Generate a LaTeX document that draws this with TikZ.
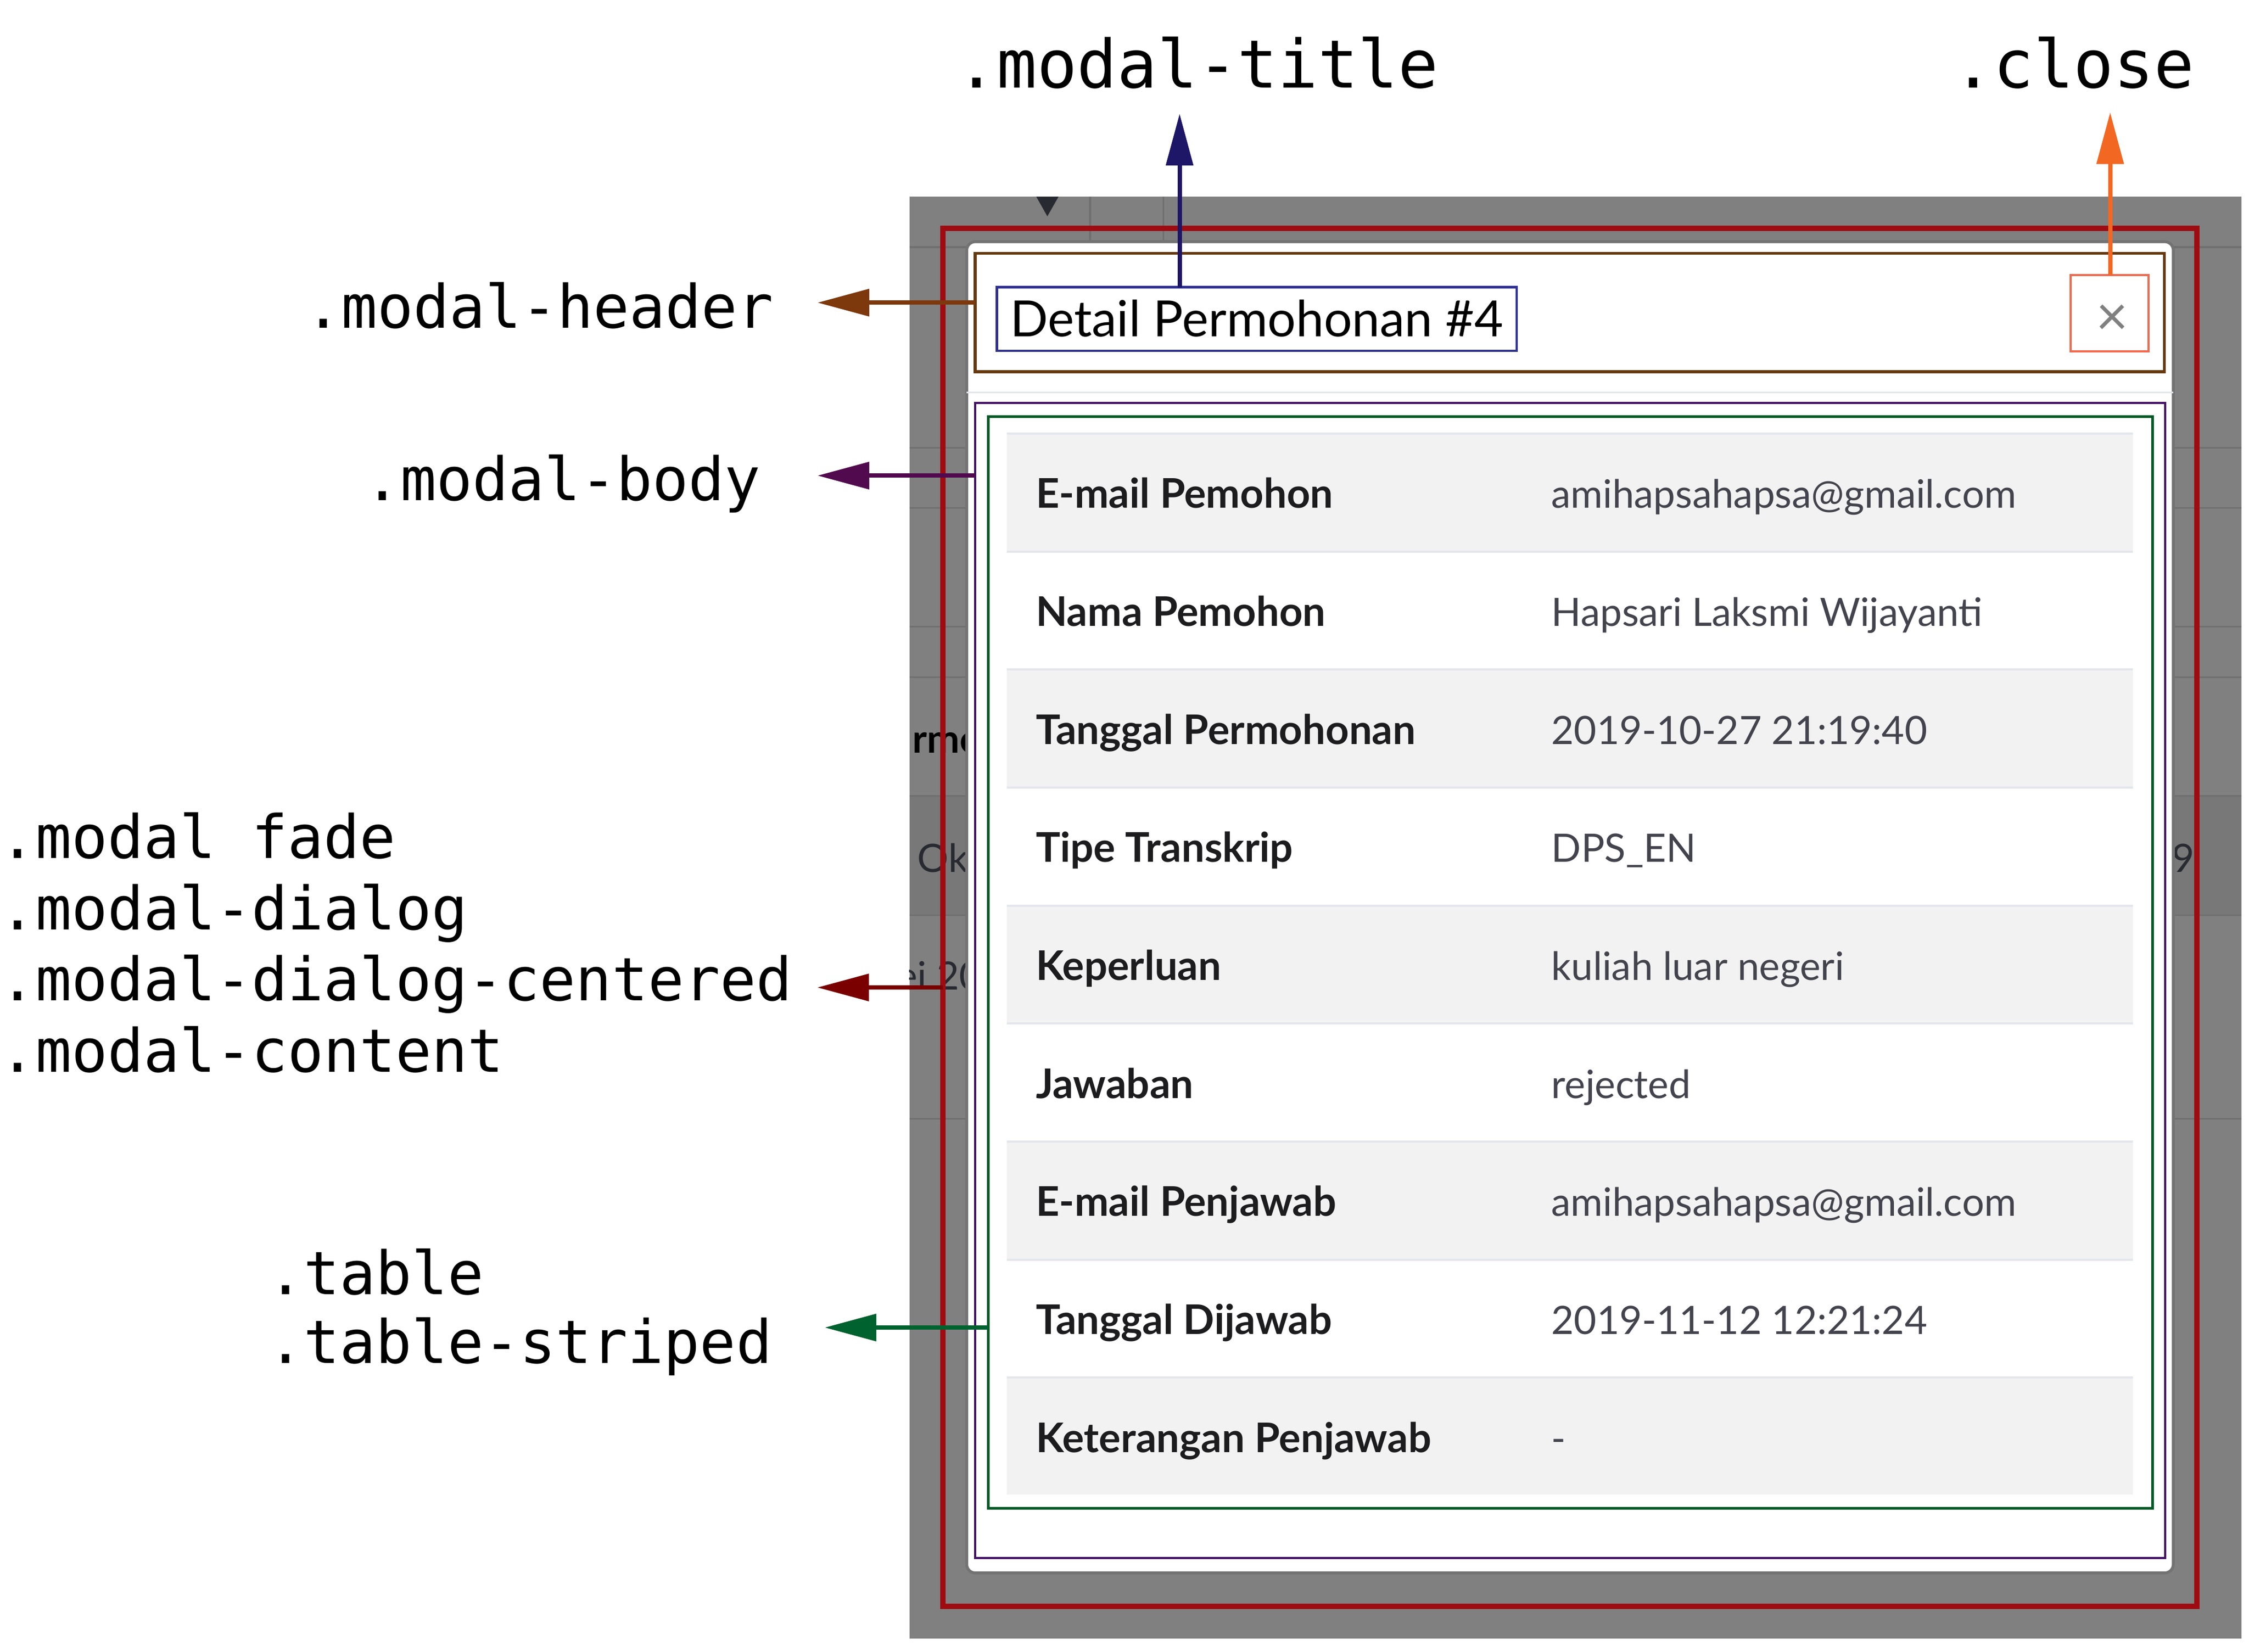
\documentclass[tikz,border=0pt]{standalone}
\usepackage{fontspec}
\usepackage{xcolor}
\newfontfamily\monofont{DejaVu Sans Mono}
\newfontfamily\uifont{Lato}
\definecolor{screen}{gray}{.5}
\definecolor{screenrow}{gray}{.47}
\definecolor{screenline}{gray}{.44}
\definecolor{screentext}{RGB}{40,42,50}
\definecolor{mydarkred}{RGB}{158,12,18}
\definecolor{mydarkredarrow}{RGB}{122,0,0}
\definecolor{mybrown}{RGB}{102,57,15}
\definecolor{mybrownarrow}{RGB}{125,56,12}
\definecolor{mytitleblue}{RGB}{46,49,146}
\definecolor{mynavy}{RGB}{30,22,102}
\definecolor{mysalmon}{RGB}{240,106,79}
\definecolor{myorange}{RGB}{242,103,34}
\definecolor{mypurple}{RGB}{66,17,100}
\definecolor{mypurplearrow}{RGB}{82,10,78}
\definecolor{mygreen}{RGB}{0,90,38}
\definecolor{mygreenarrow}{RGB}{0,98,46}
\definecolor{stripe}{RGB}{242,242,242}
\definecolor{rowline}{RGB}{227,230,236}
\definecolor{keytext}{RGB}{28,28,30}
\definecolor{valuetext}{RGB}{66,67,76}
\usepackage{tikz}
\usetikzlibrary{arrows.meta}
\newcommand{\sizetag}{\fontsize{11.87}{14}\selectfont}
\newcommand{\sizetagtop}{\fontsize{13.23}{16}\selectfont}
\newcommand{\sizetitle}{\fontsize{9.9}{12}\selectfont}
\newcommand{\sizecell}{\fontsize{7.75}{9}\selectfont}
\newcommand{\sizekey}{\fontsize{8.1}{9}\selectfont}
\newcommand{\heightrow}{8.227mm}
\newcommand{\widthrow}{78.5mm}
\newcommand{\skiptag}{4.97mm}
\tikzset{
    common/.style={anchor=north west, rectangle, inner sep=0pt, outer sep=0pt},
    outline/.style={common, draw},
    tablerow/.style={common, fill=white, minimum width=\widthrow, minimum height=\heightrow,
        path picture={
            \draw[rowline, line width=0.25mm]
                (path picture bounding box.north west) -- (path picture bounding box.north east);
        }
    },
    striperow/.style={tablerow, fill=stripe},
    fieldname/.style={anchor=base west, inner sep=0pt, font=\uifont\sizekey\bfseries, text=keytext},
    fieldvalue/.style={anchor=base west, inner sep=0pt, font=\uifont\sizecell, text=valuetext},
    fragment/.style={anchor=base west, inner sep=0pt, font=\uifont\sizecell, text=screentext},
    selector/.style={anchor=base west, inner sep=0pt, font=\monofont\sizetag},
    selectortop/.style={selector, font=\monofont\sizetagtop},
    pointer/.style={-{Triangle[length=3.6mm, width=1.85mm]}, line width=0.3mm}
}
\begin{document}
\begin{tikzpicture}[x=1mm, y=1mm]
\useasboundingbox (0,0) rectangle (156.8,-115.15);

\node[common, fill=screen, minimum width=92.87mm, minimum height=100.52mm] (screen) at (63.4,-13.71) {};
\begin{scope}
    \clip (screen.north west) rectangle (screen.south east);
    \fill[screenrow] (63.4,-55.5) rectangle (156.27,-63.8);
    \draw[screenline, line width=0.12mm]
        (63.4,-17.23) -- (156.27,-17.23) (63.4,-31.23) -- (156.27,-31.23)
        (63.4,-35.42) -- (156.27,-35.42) (63.4,-43.7) -- (156.27,-43.7)
        (63.4,-47.22) -- (156.27,-47.22) (63.4,-55.5) -- (156.27,-55.5)
        (63.4,-63.8) -- (156.27,-63.8) (63.4,-78.0) -- (156.27,-78.0)
        (76.0,-13.71) -- (76.0,-17.23) (81.1,-13.71) -- (81.1,-17.23);
    \fill[screentext] (72.25,-13.71) -- (73.8,-13.71) -- (73.02,-15.08) -- cycle;
    \node[fragment, text=black, font=\uifont\sizecell\bfseries] (frag-rmo) at (63.55,-52.5) {rmo};
    \node[fragment] (frag-ok) at (63.9,-60.83) {Ok};
    \node[fragment] (frag-date) at (62.45,-69.0) {ei 20};
    \node[fragment] (frag-nine) at (151.35,-60.83) {9};
\end{scope}

\node[outline, draw=mydarkred, line width=0.38mm, minimum width=87.43mm, minimum height=96.08mm] (dialog) at (65.74,-15.92) {};
\node[common, fill=white, draw=black!55, line width=0.2mm, rounded corners=0.6mm,
      minimum width=84.12mm, minimum height=92.82mm] (content) at (67.4,-16.85) {};
\draw[rowline, line width=0.12mm] (content.west |- 0,-27.37) -- (content.east |- 0,-27.37);

\node[outline, draw=mybrown, line width=0.2mm, minimum width=82.92mm, minimum height=8.25mm] (header) at (67.99,-17.67) {};
\node[outline, draw=mytitleblue, line width=0.17mm, minimum width=36.25mm, minimum height=4.43mm,
      text height=3.13mm, text depth=0.7mm, font=\uifont\sizetitle] (title) at (69.5,-20.03) {Detail Permohonan \#4};
\node[outline, draw=mysalmon, line width=0.15mm, minimum width=5.42mm, minimum height=5.33mm,
      text height=3.1mm, text depth=0mm, font=\uifont\fontsize{11}{13}\selectfont, text=black!50] (close) at (144.36,-19.16) {\hspace{0.4mm}×};

\node[outline, draw=mypurple, line width=0.15mm, minimum width=82.96mm, minimum height=80.56mm] (body) at (67.98,-28.08) {};
\node[outline, draw=mygreen, line width=0.17mm, minimum width=81.17mm, minimum height=76.12mm] (table) at (68.91,-29.04) {};

\path (70.2,-30.18) node[striperow] (row1) {}
    ++(270:\heightrow) node[tablerow] (row2) {}
    ++(270:\heightrow) node[striperow] (row3) {}
    ++(270:\heightrow) node[tablerow] (row4) {}
    ++(270:\heightrow) node[striperow] (row5) {}
    ++(270:\heightrow) node[tablerow] (row6) {}
    ++(270:\heightrow) node[striperow] (row7) {}
    ++(270:\heightrow) node[tablerow] (row8) {}
    ++(270:\heightrow) node[striperow] (row9) {};

\path (row1.west) ++(1.95,-1.14) node[fieldname] {E-mail Pemohon} ++(35.95,0) node[fieldvalue] {amihapsahapsa@gmail.com};
\path (row2.west) ++(1.95,-1.14) node[fieldname] {Nama Pemohon} ++(35.95,0) node[fieldvalue] {Hapsari Laksmi Wijayanti};
\path (row3.west) ++(1.95,-1.14) node[fieldname] {Tanggal Permohonan} ++(35.95,0) node[fieldvalue] {2019-10-27 21:19:40};
\path (row4.west) ++(1.95,-1.14) node[fieldname] {Tipe Transkrip} ++(35.95,0) node[fieldvalue] {DPS\_EN};
\path (row5.west) ++(1.95,-1.14) node[fieldname] {Keperluan} ++(35.95,0) node[fieldvalue] {kuliah luar negeri};
\path (row6.west) ++(1.95,-1.14) node[fieldname] {Jawaban} ++(35.95,0) node[fieldvalue] {rejected};
\path (row7.west) ++(1.95,-1.14) node[fieldname] {E-mail Penjawab} ++(35.95,0) node[fieldvalue] {amihapsahapsa@gmail.com};
\path (row8.west) ++(1.95,-1.14) node[fieldname] {Tanggal Dijawab} ++(35.95,0) node[fieldvalue] {2019-11-12 12:21:24};
\path (row9.west) ++(1.95,-1.14) node[fieldname] {Keterangan Penjawab} ++(35.95,0) node[fieldvalue] {-};

\node[selectortop] (title-tag) at (66.63,-6.14) {.modal-title};
\node[selectortop] (close-tag) at (136.11,-6.14) {.close};
\node[selector] (header-tag) at (21.22,-22.86) {.modal-header};
\node[selector] (body-tag) at (25.34,-34.9) {.modal-body};
\path (-0.1,-59.84) node[selector] (fade-tag) {.modal fade}
    ++(270:\skiptag) node[selector] (dialog-tag) {.modal-dialog}
    ++(270:\skiptag) node[selector] (centered-tag) {.modal-dialog-centered}
    ++(270:\skiptag) node[selector] (content-tag) {.modal-content};
\path (18.6,-90.25) node[selector] (table-tag) {.table}
    ++(270:4.8mm) node[selector] (striped-tag) {.table-striped};

\coordinate (title-tip) at (82.24,-7.93);
\coordinate (close-tip) at (147.12,-7.84);
\coordinate (header-tip) at (57.0,-21.1);
\coordinate (body-tip) at (57.0,-33.16);
\coordinate (dialog-tip) at (56.98,-68.85);
\coordinate (table-tip) at (57.5,-92.56);

\draw[pointer, mynavy] (title-tip |- title.north) -- (title-tip);
\draw[pointer, myorange] (close-tip |- close.north) -- (close-tip);
\draw[pointer, mybrownarrow] (header-tip -| header.west) -- (header-tip);
\draw[pointer, mypurplearrow] (body-tip -| body.west) -- (body-tip);
\draw[pointer, mydarkredarrow] (dialog-tip -| dialog.west) -- (dialog-tip);
\draw[pointer, mygreenarrow] (table-tip -| table.west) -- (table-tip);
\end{tikzpicture}
\end{document}
